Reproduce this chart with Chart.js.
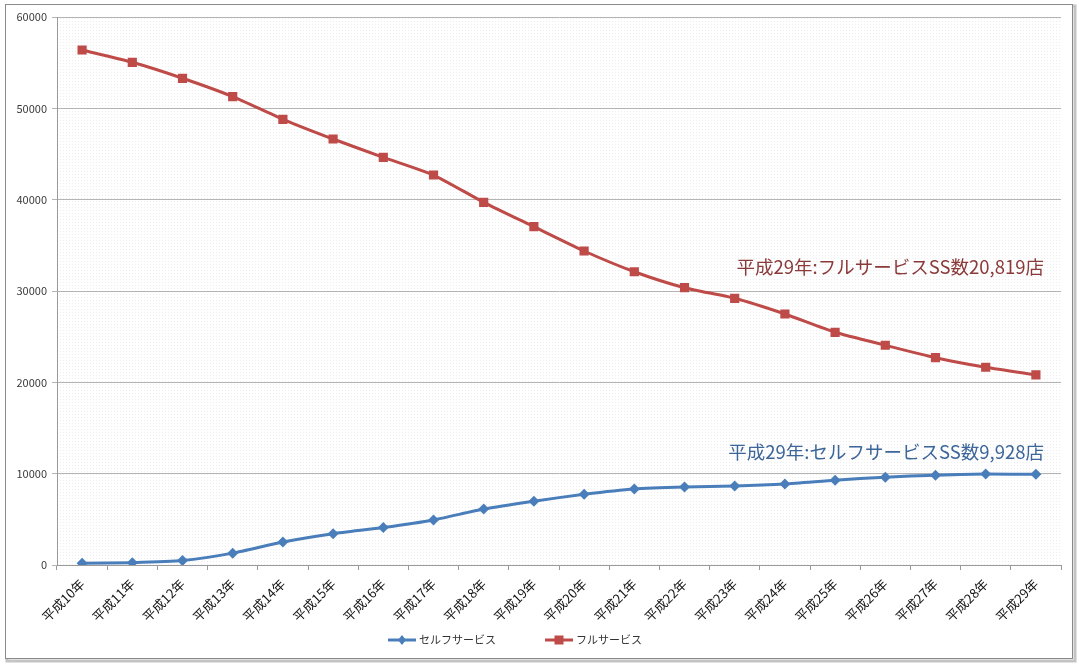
<!DOCTYPE html>
<html>
<head>
<meta charset="utf-8">
<script src="https://cdn.jsdelivr.net/npm/chart.js@4.4.1/dist/chart.umd.min.js"></script>
<style>
html,body{margin:0;padding:0;background:#fff;}
#wrap{width:1079px;height:665px;position:relative;overflow:hidden;}
canvas{display:block;}
</style>
</head>
<body>
<div id="wrap"><canvas id="c" width="1079" height="665"></canvas></div>
<script>
// ---- data ----
const categories = ['平成10年','平成11年','平成12年','平成13年','平成14年','平成15年','平成16年','平成17年','平成18年','平成19年',
                    '平成20年','平成21年','平成22年','平成23年','平成24年','平成25年','平成26年','平成27年','平成28年','平成29年'];
const selfService = [190, 260, 480, 1300, 2520, 3430, 4100, 4930, 6130, 6990, 7740, 8320, 8540, 8650, 8880, 9290, 9620, 9830, 9950, 9928];
const fullService = [56390, 55040, 53290, 51280, 48800, 46640, 44640, 42700, 39710, 37040, 34380, 32110, 30360, 29200, 27480, 25480, 24060, 22700, 21650, 20819];
const yTickValues = [0, 10000, 20000, 30000, 40000, 50000, 60000];
const seriesNames = ['セルフサービス', 'フルサービス'];
const noteTexts = ['平成29年:フルサービスSS数20,819店', '平成29年:セルフサービスSS数9,928店'];
const noteValues = [32600, 12400];

const FONT = '"Noto Sans CJK JP", "Noto Sans", sans-serif';
const BLUE = '#4A7EBB';
const RED = '#BE4B48';

// dotted background pattern
const pc = document.createElement('canvas');
pc.width = 3; pc.height = 3;
const pctx = pc.getContext('2d');
pctx.fillStyle = '#ffffff'; pctx.fillRect(0, 0, 3, 3);
pctx.fillStyle = '#eeeeee'; pctx.fillRect(0, 0, 1, 1);

const framePlugin = {
  id: 'frame',
  beforeDraw(chart) {
    const ctx = chart.ctx;
    const a = chart.chartArea;
    ctx.save();
    ctx.fillStyle = '#ffffff';
    ctx.fillRect(0, 0, chart.width, chart.height);
    ctx.strokeStyle = '#c4c4c4';
    ctx.lineWidth = 3;
    ctx.strokeRect(7, 6, 1068, 655);
    ctx.fillStyle = '#ffffff';
    ctx.fillRect(5, 4, 1067, 654);
    ctx.strokeStyle = '#8a8a8a';
    ctx.lineWidth = 1;
    ctx.strokeRect(5.5, 4.5, 1067, 654);
    ctx.fillStyle = ctx.createPattern(pc, 'repeat');
    ctx.fillRect(a.left, a.top, a.right - a.left, a.bottom - a.top);
    ctx.restore();
  }
};

function drawMarker(ctx, style, x, y, color) {
  ctx.fillStyle = color;
  ctx.beginPath();
  if (style === 'rect') {
    ctx.rect(x - 4.5, y - 4.5, 9, 9);
  } else {
    ctx.moveTo(x, y - 5); ctx.lineTo(x + 4, y); ctx.lineTo(x, y + 5); ctx.lineTo(x - 4, y);
    ctx.closePath();
  }
  ctx.fill();
}

const notesPlugin = {
  id: 'notes',
  afterDatasetsDraw(chart) {
    const ctx = chart.ctx;
    const ys = chart.scales.y;
    const colors = ['#8B3A3A', '#3C6699'];
    ctx.save();
    ctx.font = '18.5px ' + FONT;
    ctx.textAlign = 'right';
    ctx.textBaseline = 'middle';
    noteTexts.forEach((t, i) => {
      ctx.fillStyle = colors[i];
      ctx.fillText(t, chart.chartArea.right - 17, ys.getPixelForValue(noteValues[i]));
    });
    ctx.restore();
  }
};

const legendPlugin = {
  id: 'customLegend',
  afterDraw(chart) {
    const ctx = chart.ctx;
    const xs = [388, 545];
    const y = 640;
    ctx.save();
    ctx.font = '11px ' + FONT;
    ctx.textBaseline = 'middle';
    ctx.textAlign = 'left';
    chart.data.datasets.forEach((ds, i) => {
      const x0 = xs[i];
      ctx.strokeStyle = ds.borderColor;
      ctx.lineWidth = 3;
      ctx.beginPath(); ctx.moveTo(x0, y); ctx.lineTo(x0 + 28, y); ctx.stroke();
      drawMarker(ctx, ds.pointStyle, x0 + 14, y, ds.borderColor);
      ctx.fillStyle = '#333333';
      ctx.fillText(ds.label, x0 + 31, y);
    });
    ctx.restore();
  }
};

new Chart(document.getElementById('c'), {
  type: 'line',
  data: {
    labels: categories,
    datasets: [
      {
        label: seriesNames[0], data: selfService,
        borderColor: BLUE, backgroundColor: BLUE, borderWidth: 3,
        pointStyle: 'rectRot', pointRadius: 5.5, pointHoverRadius: 5.5,
        pointBackgroundColor: BLUE, pointBorderColor: BLUE, pointBorderWidth: 0,
        tension: 0.2, fill: false
      },
      {
        label: seriesNames[1], data: fullService,
        borderColor: RED, backgroundColor: RED, borderWidth: 3,
        pointStyle: 'rect', pointRadius: 6.5, pointHoverRadius: 6.5,
        pointBackgroundColor: RED, pointBorderColor: RED, pointBorderWidth: 0,
        tension: 0.2, fill: false
      }
    ]
  },
  options: {
    responsive: false,
    animation: false,
    devicePixelRatio: 1,
    layout: { padding: { top: 17, left: 0, right: 18, bottom: 40 } },
    plugins: {
      legend: { display: false },
      tooltip: { enabled: false }
    },
    scales: {
      x: {
        offset: true,
        grid: { display: true, drawOnChartArea: false, drawTicks: true, tickLength: 5, offset: true, color: '#9a9a9a' },
        border: { display: true, color: '#9a9a9a', width: 1 },
        ticks: {
          autoSkip: false, maxRotation: 45, minRotation: 45, padding: 6,
          color: '#141414', font: { family: FONT, size: 13 }
        },
        afterFit(scale) { scale.height = 60; }
      },
      y: {
        min: 0, max: 60000,
        afterBuildTicks(scale) { scale.ticks = yTickValues.map(v => ({ value: v })); },
        grid: { color: '#b4b4b4', lineWidth: 1, tickLength: 5, drawTicks: true },
        border: { display: true, color: '#9a9a9a', width: 1 },
        ticks: {
          padding: 5, color: '#3a3a3a', font: { family: FONT, size: 11 },
          callback: v => String(v)
        },
        afterFit(scale) { scale.width = 57; }
      }
    }
  },
  plugins: [framePlugin, notesPlugin, legendPlugin]
});
</script>
</body>
</html>
